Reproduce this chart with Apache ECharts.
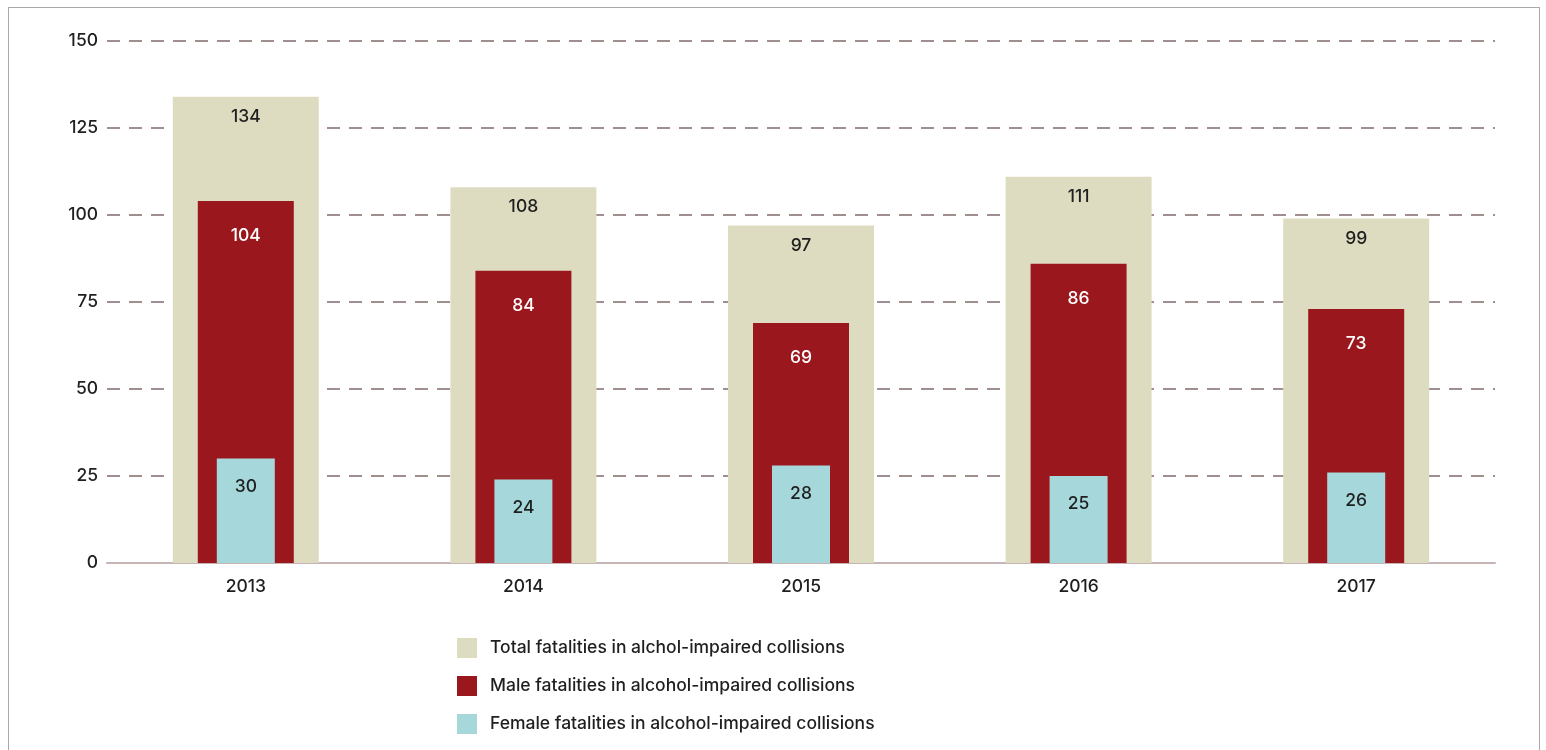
<!DOCTYPE html>
<html>
<head>
<meta charset="utf-8">
<script src="https://cdn.jsdelivr.net/npm/echarts@6/dist/echarts.min.js"></script>
<style>
html,body{margin:0;padding:0;background:#fff;}
#frame{position:absolute;left:8px;top:7px;width:1532px;height:800px;border:1px solid #a9a9a9;box-sizing:border-box;}
#chart{position:absolute;left:0;top:0;width:1546px;height:750px;}
</style>
</head>
<body>
<div id="frame"></div>
<div id="chart"></div>
<script>
const years = ['2013', '2014', '2015', '2016', '2017'];
const totalFatalities = [134, 108, 97, 111, 99];
const maleFatalities = [104, 84, 69, 86, 73];
const femaleFatalities = [30, 24, 28, 25, 26];
const seriesNames = [
  'Total fatalities in alchol-impaired collisions',
  'Male fatalities in alcohol-impaired collisions',
  'Female fatalities in alcohol-impaired collisions'
];
const yTicks = [0, 25, 50, 75, 100, 125, 150];

const FONT = 'Inter';
const FS = 17.5;
const FW = 500;
const chart = echarts.init(document.getElementById('chart'), null, {renderer: 'canvas'});

function xAxisDef(show) {
  return {
    type: 'category',
    data: years,
    show: show,
    axisLine: {show: true, lineStyle: {color: '#c7b5b5', width: 2}},
    axisTick: {show: false},
    axisLabel: {color: '#1f1f1f', fontSize: FS, fontWeight: FW, fontFamily: FONT, margin: 15}
  };
}

const labelBase = {show: true, position: 'insideTop', fontSize: FS, fontFamily: FONT, fontWeight: FW};

chart.setOption({
  animation: false,
  grid: {left: 107, right: 51, top: 41, bottom: 187, containLabel: false},
  xAxis: [xAxisDef(true), xAxisDef(false), xAxisDef(false)],
  yAxis: {
    type: 'value',
    min: yTicks[0],
    max: yTicks[yTicks.length - 1],
    interval: 25,
    axisLine: {show: false},
    axisTick: {show: false},
    axisLabel: {color: '#1f1f1f', fontSize: FS, fontWeight: FW, fontFamily: FONT, margin: 9},
    splitLine: {show: true, lineStyle: {color: '#a08f8f', width: 2, type: [13, 9]}}
  },
  legend: {
    orient: 'vertical',
    left: 452,
    top: 633,
    itemWidth: 20,
    itemHeight: 20,
    itemGap: 18,
    icon: 'rect',
    textStyle: {color: '#1f1f1f', fontSize: FS, fontWeight: FW, fontFamily: FONT, padding: [0, 0, 0, 8]},
    data: seriesNames
  },
  series: [
    {
      name: seriesNames[0], type: 'bar', xAxisIndex: 0, barWidth: 146,
      data: totalFatalities,
      itemStyle: {color: '#dedcc0'},
      label: Object.assign({}, labelBase, {color: '#1f1f1f', distance: 11})
    },
    {
      name: seriesNames[1], type: 'bar', xAxisIndex: 1, barWidth: 96,
      data: maleFatalities,
      itemStyle: {color: '#9a181d'},
      label: Object.assign({}, labelBase, {color: '#ffffff', distance: 26})
    },
    {
      name: seriesNames[2], type: 'bar', xAxisIndex: 2, barWidth: 58,
      data: femaleFatalities,
      itemStyle: {color: '#a6d8db'},
      label: Object.assign({}, labelBase, {color: '#1f1f1f', distance: 19})
    }
  ]
});
</script>
</body>
</html>
